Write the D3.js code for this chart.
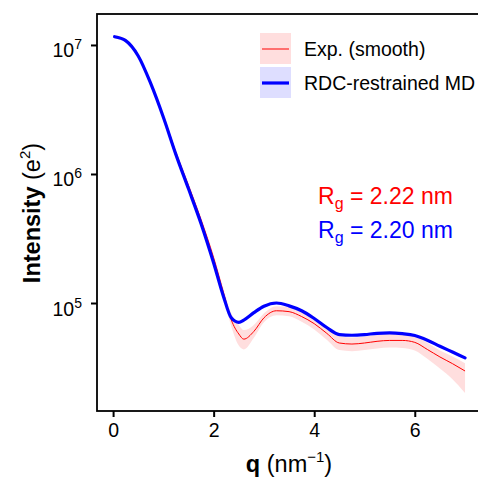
<!DOCTYPE html>
<html>
<head>
<meta charset="utf-8">
<script src="https://cdn.jsdelivr.net/npm/d3@7"></script>
<style>
  body { margin: 0; background: #fff; }
  svg { display: block; font-family: "Liberation Sans", Arial, sans-serif; }
</style>
</head>
<body>
<svg id="chart" width="478" height="479"></svg>
<script>
(function (d3) {
    'use strict';

    // q in nm^-1, intensities stored as log10(I)
    var q = [0.03, 0.25, 0.5, 0.75, 1.0, 1.25, 1.5, 1.75, 2.0, 2.2, 2.35, 2.5, 2.6, 2.8, 3.0, 3.25,
             3.5, 3.75, 4.0, 4.25, 4.5, 4.75, 5.0, 5.25, 5.5, 5.75, 6.0, 6.25, 6.5, 6.75, 7.0];
    var mdLog = [7.064, 7.034, 6.915, 6.70, 6.44, 6.15, 5.885, 5.615, 5.31, 5.045, 4.885, 4.85, 4.868,
                 4.925, 4.975, 5.0, 4.978, 4.94, 4.88, 4.81, 4.755, 4.75, 4.755, 4.765, 4.768, 4.762,
                 4.748, 4.712, 4.665, 4.62, 4.575];
    var expLog = [7.064, 7.034, 6.915, 6.70, 6.445, 6.165, 5.91, 5.645, 5.35, 5.075, 4.87, 4.76, 4.72,
                  4.78, 4.885, 4.94, 4.933, 4.895, 4.84, 4.765, 4.69, 4.682, 4.69, 4.703, 4.71, 4.71,
                  4.695, 4.64, 4.582, 4.53, 4.473];
    var expLoLog = [7.05, 7.02, 6.90, 6.685, 6.425, 6.145, 5.89, 5.625, 5.325, 5.045, 4.82, 4.67, 4.64,
                    4.73, 4.85, 4.905, 4.898, 4.855, 4.795, 4.715, 4.635, 4.627, 4.635, 4.648, 4.655, 4.652,
                    4.632, 4.568, 4.492, 4.41, 4.303];
    var expHiLog = [7.078, 7.048, 6.93, 6.715, 6.465, 6.185, 5.93, 5.665, 5.375, 5.105, 4.92, 4.83, 4.79,
                    4.83, 4.92, 4.975, 4.968, 4.935, 4.885, 4.81, 4.74, 4.732, 4.74, 4.753, 4.76, 4.762,
                    4.747, 4.692, 4.632, 4.585, 4.533];

    var xTicks = [0, 2, 4, 6];
    var yTickExp = [5, 6, 7];
    var legendLabels = ['Exp. (smooth)', 'RDC-restrained MD'];
    var rgLabels = [['R', 'g', ' = 2.22 nm'], ['R', 'g', ' = 2.20 nm']];

    var svg = d3.select('#chart');
    var left = 97, top = 14, bottom = 411;

    var x = d3.scaleLinear().domain([-0.32, 7.3]).range([left, left + 7.62 * 50.28]);
    var y = d3.scaleLog().domain([Math.pow(10, 4.163), Math.pow(10, 7.24)]).range([bottom, top]);

    var pts = q.map(function (v, i) {
        return { q: v, md: Math.pow(10, mdLog[i]), exp: Math.pow(10, expLog[i]),
                 lo: Math.pow(10, expLoLog[i]), hi: Math.pow(10, expHiLog[i]) };
    });

    var curve = d3.curveMonotoneX;

    svg.append('path')
        .datum(pts)
        .attr('fill', '#ffdede')
        .attr('d', d3.area().curve(curve)
            .x(function (d) { return x(d.q); })
            .y0(function (d) { return y(d.lo); })
            .y1(function (d) { return y(d.hi); }));

    svg.append('path')
        .datum(pts)
        .attr('fill', 'none')
        .attr('stroke', '#ff0000')
        .attr('stroke-width', 1)
        .attr('d', d3.line().curve(curve)
            .x(function (d) { return x(d.q); })
            .y(function (d) { return y(d.exp); }));

    svg.append('path')
        .datum(pts)
        .attr('fill', 'none')
        .attr('stroke', '#0000ff')
        .attr('stroke-width', 3.2)
        .attr('stroke-linecap', 'round')
        .attr('d', d3.line().curve(curve)
            .x(function (d) { return x(d.q); })
            .y(function (d) { return y(d.md); }));

    // panel border (right side falls outside the picture)
    svg.append('rect')
        .attr('x', left).attr('y', top)
        .attr('width', 420).attr('height', bottom - top)
        .attr('fill', 'none').attr('stroke', '#000').attr('stroke-width', 1.8);

    // x axis
    var xAxis = svg.append('g')
        .attr('transform', 'translate(0,' + bottom + ')')
        .call(d3.axisBottom(x).tickValues(xTicks).tickSize(6).tickPadding(6).tickFormat(d3.format('d')));
    xAxis.select('.domain').remove();
    xAxis.selectAll('line').attr('stroke-width', 2);
    xAxis.selectAll('text').attr('font-size', 19.5).attr('font-family', '"Liberation Sans", Arial, sans-serif').attr('fill', '#000');

    // y axis
    var yAxis = svg.append('g')
        .attr('transform', 'translate(' + left + ',0)')
        .call(d3.axisLeft(y).tickValues(yTickExp.map(function (e) { return Math.pow(10, e); }))
            .tickSize(6).tickFormat(''));
    yAxis.select('.domain').remove();
    yAxis.selectAll('line').attr('stroke-width', 2);
    yAxis.selectAll('.tick').each(function (d, i) {
        var t = d3.select(this).append('text')
            .attr('x', -15).attr('y', 12)
            .attr('text-anchor', 'end')
            .attr('fill', '#000')
            .attr('font-size', 19.5)
            .attr('font-family', '"Liberation Sans", Arial, sans-serif');
        t.append('tspan').text('10');
        t.append('tspan').attr('font-size', 14).attr('dy', -8).text(yTickExp[i]);
    });

    // axis titles
    var xt = svg.append('text')
        .attr('x', 289).attr('y', 472)
        .attr('text-anchor', 'middle')
        .attr('font-size', 23.5);
    xt.append('tspan').attr('font-weight', 'bold').text('q');
    xt.append('tspan').text(' (nm');
    xt.append('tspan').attr('font-size', 15).attr('dy', -10).text('\u22121');
    xt.append('tspan').attr('dy', 10).text(')');

    var yt = svg.append('text')
        .attr('transform', 'translate(40,213) rotate(-90)')
        .attr('text-anchor', 'middle')
        .attr('font-size', 23.5);
    yt.append('tspan').attr('font-weight', 'bold').text('Intensity');
    yt.append('tspan').text(' (e');
    yt.append('tspan').attr('font-size', 15).attr('dy', -10).text('2');
    yt.append('tspan').attr('dy', 10).text(')');

    // legend
    var legend = svg.append('g');
    var keyFill = ['#ffdede', '#dedeff'];
    var keyStroke = ['#ff0000', '#0000ff'];
    var keyWidth = [1, 3.2];
    legendLabels.forEach(function (lab, i) {
        var ky = 33 + i * 34;
        legend.append('rect').attr('x', 260).attr('y', ky).attr('width', 31).attr('height', 31)
            .attr('fill', keyFill[i]);
        legend.append('line').attr('x1', 262).attr('x2', 289)
            .attr('y1', ky + 16).attr('y2', ky + 16)
            .attr('stroke', keyStroke[i]).attr('stroke-width', keyWidth[i]);
        legend.append('text').attr('x', 304).attr('y', ky + 23)
            .attr('font-size', 19.5).attr('fill', '#000').text(lab);
    });

    // Rg annotations
    var rgColor = ['#ff0000', '#0000ff'];
    rgLabels.forEach(function (parts, i) {
        var t = svg.append('text').attr('x', 318).attr('y', 204 + i * 34)
            .attr('font-size', 23).attr('fill', rgColor[i]);
        t.append('tspan').text(parts[0]);
        t.append('tspan').attr('font-size', 16).attr('dy', 5).text(parts[1]);
        t.append('tspan').attr('dy', -5).text(parts[2]);
    });
})(d3);
</script>
</body>
</html>
